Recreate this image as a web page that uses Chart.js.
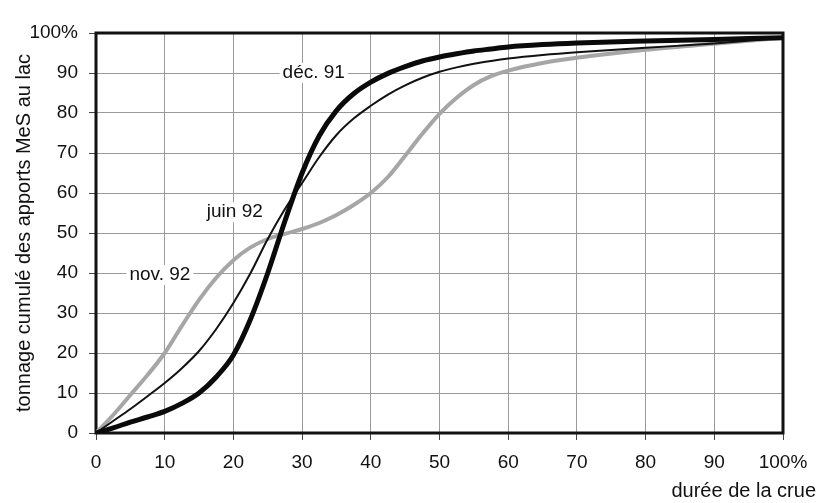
<html>
<head>
<meta charset="UTF-8"/>
<style>
html, body {
 width: 100%;
 height: 100%;
 margin: 0px;
 border: 0;
 overflow: hidden;
 display: block;
 background-color: #ffffff;
}
</style>
<script src="https://cdn.jsdelivr.net/npm/chart.js@4.4.0/dist/chart.umd.min.js"></script>
<script type="text/javascript">
// durée de la crue (%)
var duree = [0, 2.5, 5, 7.5, 10, 12.5, 15, 17.5, 20, 22.5, 25, 27.5, 30, 32.5, 35, 37.5, 40,
             42.5, 45, 47.5, 50, 52.5, 55, 57.5, 60, 65, 70, 80, 90, 100];

// tonnage cumulé (%)
var dec91  = [0, 1.3, 2.7, 4, 5.4, 7.4, 10, 14, 19.5, 28.5, 40, 53, 65, 74.3, 80.6, 84.8, 87.7,
              89.9, 91.6, 93, 94, 94.8, 95.5, 96, 96.5, 97.1, 97.5, 98, 98.4, 98.8];
var juin92 = [0, 3, 6, 9.2, 12.5, 16.2, 20.5, 26, 32.5, 40, 48.5, 56, 62.5, 69, 74.5, 78.6, 81.8,
              84.6, 86.9, 88.8, 90.3, 91.4, 92.3, 93, 93.6, 94.5, 95.2, 96.3, 97.4, 98.8];
var nov92  = [0, 4.5, 9.5, 14.5, 20, 26.8, 33.3, 38.8, 43.2, 46.4, 48.5, 49.8, 51, 52.5, 54.5, 57, 60,
              64, 69.3, 74.8, 79.8, 83.8, 87, 89.2, 90.6, 92.5, 93.8, 95.8, 97.3, 98.8];

var seriesNames = ['déc. 91', 'juin 92', 'nov. 92'];
var tickValues = [0, 10, 20, 30, 40, 50, 60, 70, 80, 90, 100];
var xTitle = 'durée de la crue';
var yTitle = 'tonnage cumulé des apports MeS au lac';

// where each curve name sits, in data units
var labelPos = [
    {x: 31.7, y: 90},
    {x: 20.2, y: 55.2},
    {x: 9.3, y: 39.5}
];

var FONT = "'Liberation Sans', Arial, sans-serif";

function pts(ys) {
    return duree.map(function(x, i) { return {x: x, y: ys[i]}; });
}

var extras = {
    id: 'extras',
    beforeDatasetsDraw: function(chart) {
        var ctx = chart.ctx, a = chart.chartArea;
        ctx.save();
        ctx.strokeStyle = '#111';
        ctx.lineWidth = 3;
        ctx.strokeRect(a.left, a.top, a.right - a.left, a.bottom - a.top);
        ctx.restore();
    },
    afterDatasetsDraw: function(chart) {
        var ctx = chart.ctx;
        var xs = chart.scales.x, ys = chart.scales.y;
        ctx.save();
        ctx.font = '19px ' + FONT;
        ctx.textAlign = 'center';
        ctx.textBaseline = 'middle';
        for (var i = 0; i < seriesNames.length; i++) {
            var px = xs.getPixelForValue(labelPos[i].x);
            var py = ys.getPixelForValue(labelPos[i].y);
            var w = ctx.measureText(seriesNames[i]).width;
            ctx.fillStyle = '#fff';
            ctx.fillRect(px - w / 2 - 3, py - 10, w + 6, 20);
            ctx.fillStyle = '#111';
            ctx.fillText(seriesNames[i], px, py);
        }
        // axis titles
        ctx.font = '20px ' + FONT;
        ctx.textAlign = 'right';
        ctx.fillText(xTitle, 816, 491);
        ctx.translate(24, 233);
        ctx.rotate(-Math.PI / 2);
        ctx.textAlign = 'center';
        ctx.fillText(yTitle, 0, 0);
        ctx.restore();
    }
};

function init() {
    var ctx = document.getElementById('myChart').getContext('2d');
    new Chart(ctx, {
        type: 'scatter',
        data: {
            datasets: [{
                label: seriesNames[0],
                data: pts(dec91),
                borderColor: '#0a0a0a',
                borderWidth: 5,
                showLine: true,
                pointRadius: 0,
                cubicInterpolationMode: 'monotone'
            }, {
                label: seriesNames[1],
                data: pts(juin92),
                borderColor: '#111',
                borderWidth: 2,
                showLine: true,
                pointRadius: 0,
                cubicInterpolationMode: 'monotone'
            }, {
                label: seriesNames[2],
                data: pts(nov92),
                borderColor: '#a6a6a6',
                borderWidth: 4,
                showLine: true,
                pointRadius: 0,
                cubicInterpolationMode: 'monotone'
            }]
        },
        options: {
            responsive: false,
            animation: false,
            layout: { padding: { left: 0, right: 36, top: 33, bottom: 0 } },
            plugins: {
                legend: { display: false },
                tooltip: { enabled: false }
            },
            scales: {
                x: {
                    type: 'linear',
                    min: 0,
                    max: 100,
                    afterFit: function(s) { s.height = 70; },
                    afterBuildTicks: function(s) { s.ticks = tickValues.map(function(v) { return {value: v}; }); },
                    grid: { color: '#9a9a9a', lineWidth: 1, tickLength: 7, tickColor: '#444' },
                    border: { display: false },
                    ticks: {
                        color: '#111',
                        padding: 11,
                        maxRotation: 0,
                        font: { family: FONT, size: 19 },
                        callback: function(v) { return v == 100 ? '100%' : v; }
                    }
                },
                y: {
                    type: 'linear',
                    min: 0,
                    max: 100,
                    afterFit: function(s) { s.width = 96; },
                    afterBuildTicks: function(s) { s.ticks = tickValues.map(function(v) { return {value: v}; }); },
                    grid: { color: '#9a9a9a', lineWidth: 1, tickLength: 7, tickColor: '#444' },
                    border: { display: false },
                    ticks: {
                        color: '#111',
                        padding: 11,
                        font: { family: FONT, size: 19 },
                        callback: function(v) { return v == 100 ? '100%' : v; }
                    }
                }
            }
        },
        plugins: [extras]
    });
}
</script>
<title>Chart</title>
</head>
<body onload="JavaScript:init();">
<canvas id="myChart" width="819" height="503" style="width:819px;height:503px"></canvas>
</body>
</html>
